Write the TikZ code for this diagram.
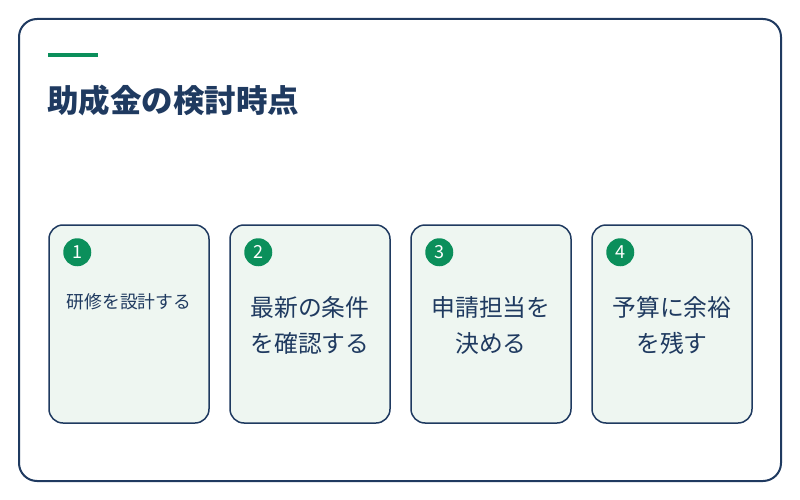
\documentclass[tikz,border=0pt]{standalone}
\usepackage{fontspec}
\setmainfont{Noto Sans CJK JP}
\usetikzlibrary{positioning}
\definecolor{navy}{HTML}{1F3A60}
\definecolor{leaf}{HTML}{0B8F5B}
\definecolor{mint}{HTML}{EEF6F1}

\tikzset{
  card/.style={draw=navy,line width=1.5pt,fill=mint,rounded corners=14pt,
    minimum width=160pt,minimum height=198pt,inner sep=0pt},
  badge/.style={circle,fill=leaf,text=white,minimum size=28pt,inner sep=0pt,
    font=\fontsize{18}{18}\selectfont},
  cardtext/.style={text=navy,align=center,font=\fontsize{23.8}{36}\selectfont},
}

\begin{document}
\begin{tikzpicture}[x=1pt,y=-1pt]
\useasboundingbox (0,0) rectangle (800,500);
\draw[navy,line width=2pt,rounded corners=18pt,fill=white] (19,19) rectangle (781,481);
\draw[leaf,line width=4pt] (48,55) -- (98,55);
\node[anchor=base west,text=navy,inner sep=0pt,font=\fontsize{31.5}{32}\selectfont\bfseries] (title) at (47,113) {助成金の検討時点};

% cards
\node[card] (c1) at (129,324) {};
\node[card] (c2) at (310,324) {};
\node[card] (c3) at (491,324) {};
\node[card] (c4) at (672,324) {};

\foreach \i in {1,...,4}
  \node[badge] (b\i) at ([xshift=29pt,yshift=-28pt]c\i.north west) {\i};

\node[cardtext,font=\fontsize{17.8}{20}\selectfont] (t1) at ([yshift=-78pt]c1.north) {研修を設計する};
\node[cardtext] (t2) at ([yshift=-1pt]c2.center) {最新の条件\\を確認する};
\node[cardtext] (t3) at ([yshift=-1pt]c3.center) {申請担当を\\決める};
\node[cardtext] (t4) at ([yshift=-1pt]c4.center) {予算に余裕\\を残す};
\end{tikzpicture}
\end{document}
